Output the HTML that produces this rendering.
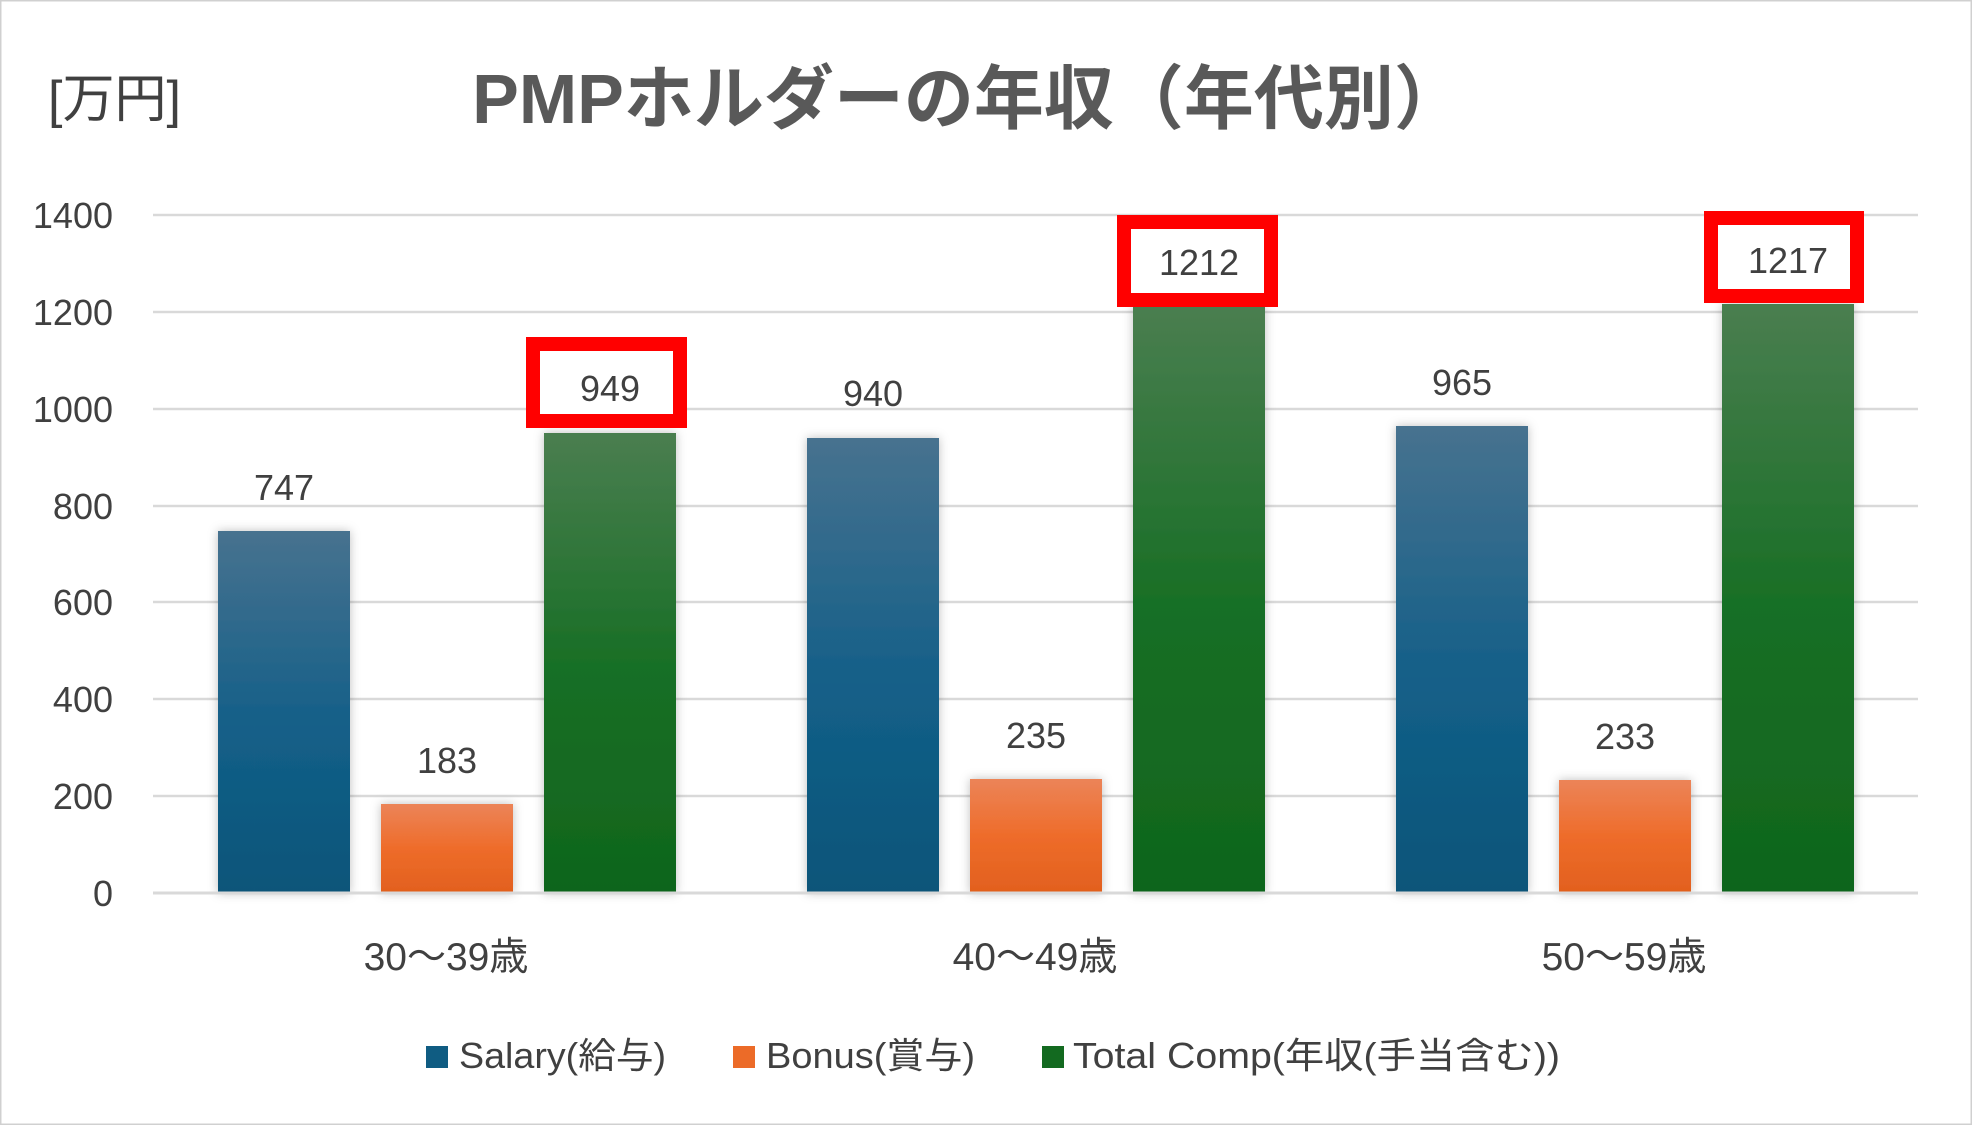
<!DOCTYPE html>
<html><head><meta charset="utf-8"><style>
html,body{margin:0;padding:0;background:#fff;}
svg{display:block;}
text{font-family:"Liberation Sans","Noto Sans CJK JP",sans-serif;fill:#404040;}
</style></head><body>
<svg width="1972" height="1125" viewBox="0 0 1972 1125" xmlns="http://www.w3.org/2000/svg">
<defs>
<linearGradient id="gb" x1="0" y1="0" x2="0" y2="1"><stop offset="0" stop-color="#47728f"/><stop offset="0.55" stop-color="#135f88"/><stop offset="1" stop-color="#0b5579"/></linearGradient>
<linearGradient id="go" x1="0" y1="0" x2="0" y2="1"><stop offset="0" stop-color="#ec8458"/><stop offset="0.5" stop-color="#ee6c2a"/><stop offset="1" stop-color="#e2601e"/></linearGradient>
<linearGradient id="gg" x1="0" y1="0" x2="0" y2="1"><stop offset="0" stop-color="#4a7e50"/><stop offset="0.5" stop-color="#196f26"/><stop offset="1" stop-color="#0f651c"/></linearGradient>
<filter id="sh" x="-20%" y="-5%" width="140%" height="110%"><feDropShadow dx="0" dy="0" stdDeviation="5" flood-color="#000" flood-opacity="0.25"/></filter>
</defs>
<rect x="0.5" y="0.5" width="1971" height="1124" fill="#fff" stroke="#d0d0d0" stroke-width="2"/>
<text x="48" y="117" font-size="52">[万円]</text>
<text x="968" y="123" font-size="70" font-weight="bold" text-anchor="middle" style="fill:#595959">PMPホルダーの年収（年代別）</text>
<g stroke="#d9d9d9" stroke-width="2.5">
<line x1="153" y1="215" x2="1918" y2="215"/>
<line x1="153" y1="312" x2="1918" y2="312"/>
<line x1="153" y1="409" x2="1918" y2="409"/>
<line x1="153" y1="506" x2="1918" y2="506"/>
<line x1="153" y1="602" x2="1918" y2="602"/>
<line x1="153" y1="699" x2="1918" y2="699"/>
<line x1="153" y1="796" x2="1918" y2="796"/>
</g>
<g font-size="36" text-anchor="end">
<text x="113" y="228">1400</text><text x="113" y="325">1200</text><text x="113" y="422">1000</text>
<text x="113" y="519">800</text><text x="113" y="615">600</text><text x="113" y="712">400</text>
<text x="113" y="809">200</text><text x="113" y="906">0</text>
</g>
<g filter="url(#sh)">
<rect x="218" y="531" width="132" height="362" fill="url(#gb)"/>
<rect x="381" y="804" width="132" height="89" fill="url(#go)"/>
<rect x="544" y="433" width="132" height="460" fill="url(#gg)"/>
<rect x="807" y="438" width="132" height="455" fill="url(#gb)"/>
<rect x="970" y="779" width="132" height="114" fill="url(#go)"/>
<rect x="1133" y="306" width="132" height="587" fill="url(#gg)"/>
<rect x="1396" y="426" width="132" height="467" fill="url(#gb)"/>
<rect x="1559" y="780" width="132" height="113" fill="url(#go)"/>
<rect x="1722" y="304" width="132" height="589" fill="url(#gg)"/>
</g>
<line x1="153" y1="893" x2="1918" y2="893" stroke="#d9d9d9" stroke-width="3"/>
<g fill="#fff" stroke="#ff0000" stroke-width="14">
<rect x="533" y="344" width="147" height="77"/>
<rect x="1124" y="222" width="147" height="78"/>
<rect x="1711" y="218" width="146" height="78"/>
</g>
<g font-size="36" text-anchor="middle">
<text x="284" y="500">747</text><text x="447" y="773">183</text><text x="610" y="401">949</text>
<text x="873" y="406">940</text><text x="1036" y="748">235</text><text x="1199" y="275">1212</text>
<text x="1462" y="395">965</text><text x="1625" y="749">233</text><text x="1788" y="273">1217</text>
</g>
<g font-size="39" text-anchor="middle">
<text x="446" y="970">30～39歳</text><text x="1035" y="970">40～49歳</text><text x="1624" y="970">50～59歳</text>
</g>
<rect x="426" y="1046" width="22" height="22" fill="#0f5c82"/>
<text x="459" y="1068" font-size="36" textLength="207" lengthAdjust="spacingAndGlyphs">Salary(給与)</text>
<rect x="733" y="1046" width="22" height="22" fill="#ec6b28"/>
<text x="766" y="1068" font-size="36" textLength="209" lengthAdjust="spacingAndGlyphs">Bonus(賞与)</text>
<rect x="1042" y="1046" width="22" height="22" fill="#136a20"/>
<text x="1073" y="1068" font-size="36" textLength="487" lengthAdjust="spacingAndGlyphs">Total Comp(年収(手当含む))</text>
</svg>
</body></html>
